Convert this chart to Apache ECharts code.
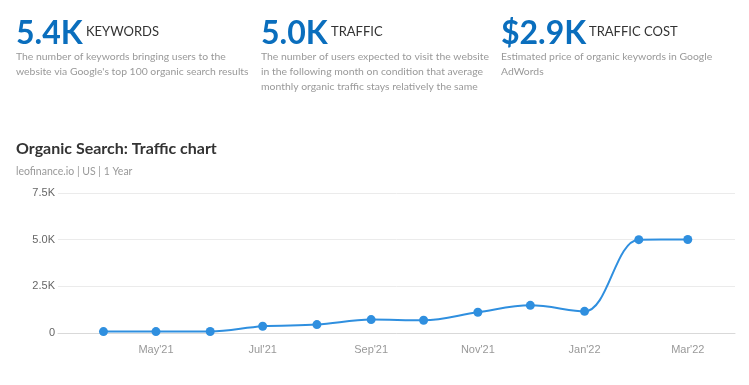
<!DOCTYPE html>
<html><head><meta charset="utf-8">
<script src="https://cdn.jsdelivr.net/npm/echarts@6/dist/echarts.min.js"></script>
<style>html,body{margin:0;padding:0;background:#fff}#c{width:749px;height:385px}</style>
</head><body><div id="c"></div>
<script>
const months = ['2021-04-01','2021-05-01','2021-06-01','2021-07-01','2021-08-01','2021-09-01','2021-10-01','2021-11-01','2021-12-01','2022-01-01','2022-02-01','2022-03-01'];
const traffic = [75, 75, 80, 360, 450, 720, 680, 1110, 1480, 1160, 5000, 5010];
const yTicks = [0, 2500, 5000, 7500];
const monthNames = ['Jan','Feb','Mar','Apr','May','Jun','Jul','Aug','Sep','Oct','Nov','Dec'];
const metricValues = ['5.4K','5.0K','$2.9K'];
const metricNames = ['KEYWORDS','TRAFFIC','TRAFFIC COST'];
const metricDescs = [
  "The number of keywords bringing users to the\nwebsite via Google's top 100 organic search results",
  "The number of users expected to visit the website\nin the following month on condition that average\nmonthly organic traffic stays relatively the same",
  "Estimated price of organic keywords in Google\nAdWords"
];
const chartTitle = 'Organic Search: Traffic chart';
const chartSub = 'leofinance.io | US | 1 Year';

const colX = [16, 261, 501];
const nameX = [86, 331, 589];
const FONT = 'Lato, "Open Sans", sans-serif';
const graphics = [];
for (let i = 0; i < 3; i++) {
  graphics.push({type:'text', left: colX[i], top: 18, style:{text: metricValues[i], font:'bold 32px ' + FONT, fill:'#0a6ebd'}});
  graphics.push({type:'text', left: nameX[i], top: 25, style:{text: metricNames[i], font:'13px ' + FONT, fill:'#333'}});
  graphics.push({type:'text', left: colX[i], top: 49, style:{text: metricDescs[i], font:'10.4px ' + FONT, fill:'#999', lineHeight: 15}});
}
graphics.push({type:'text', left: 16, top: 141, style:{text: chartTitle, font:'bold 16px ' + FONT, fill:'#333'}});
graphics.push({type:'text', left: 16, top: 166, style:{text: chartSub, font:'10.5px ' + FONT, fill:'#999'}});

const AX_FONT = '"Liberation Sans", Arial, sans-serif';
const chart = echarts.init(document.getElementById('c'));
chart.setOption({
  animation: false,
  graphic: graphics,
  grid: {left: 58, right: 14, top: 193, bottom: 52, containLabel: false},
  xAxis: {
    type: 'time',
    min: +new Date('2021-03-06'),
    max: +new Date('2022-03-28'),
    minInterval: 28 * 86400000,
    maxInterval: 31 * 86400000,
    axisLine: {show: true, lineStyle: {color: '#d9d9d9', width: 1}},
    axisTick: {show: false},
    splitLine: {show: false},
    axisLabel: {
      color: '#999', fontSize: 11, fontFamily: AX_FONT, margin: 11,
      hideOverlap: false,
      formatter: function (v) {
        const d = new Date(v);
        const m = d.getMonth();
        if (d.getDate() !== 1 || m % 2 === 1) return '';
        return monthNames[m] + "'" + String(d.getFullYear()).slice(2);
      }
    }
  },
  yAxis: {
    type: 'value', min: yTicks[0], max: yTicks[yTicks.length - 1], interval: yTicks[1] - yTicks[0],
    axisLine: {show: false}, axisTick: {show: false},
    splitLine: {lineStyle: {color: '#ebebeb', width: 1}},
    axisLabel: {
      color: '#666', fontSize: 11, fontFamily: AX_FONT, margin: 3,
      formatter: v => v === 0 ? '0' : (v / 1000).toFixed(1) + 'K'
    }
  },
  series: [{
    type: 'line',
    data: months.map((m, i) => [+new Date(m), traffic[i]]),
    smooth: 0.35,
    symbol: 'circle', symbolSize: 9,
    lineStyle: {color: '#2f8fdf', width: 2},
    itemStyle: {color: '#2f8fdf'}
  }]
});
</script></body></html>
